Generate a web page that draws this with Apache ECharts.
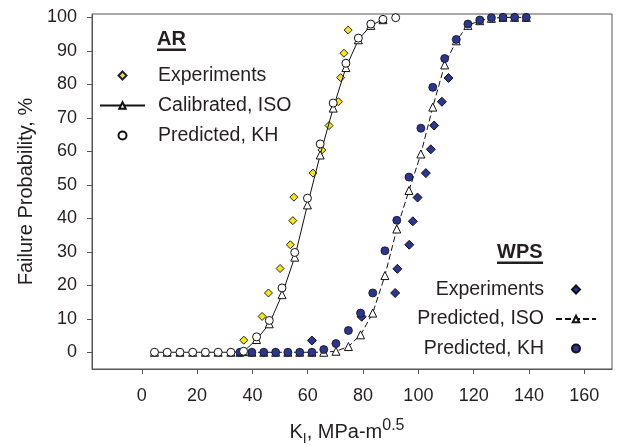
<!DOCTYPE html>
<html>
<head>
<meta charset="utf-8">
<script src="https://cdn.jsdelivr.net/npm/echarts@6/dist/echarts.min.js"></script>
<style>
  html, body { margin: 0; padding: 0; background: #fff; }
  #chart { width: 617px; height: 446px; }
</style>
</head>
<body>
<div id="chart"></div>
<script>
// AR data
const arX = [4.6, 9.2, 13.8, 18.4, 23.0, 27.6, 32.2, 36.8, 41.5, 46.1, 50.7, 55.3, 59.9, 64.5, 69.2, 73.8, 78.3, 82.8, 87.2, 91.8];
const arKH = [0, 0, 0, 0, 0, 0, 0, 0.3, 4.6, 9.5, 19.2, 29.8, 46.0, 62.2, 74.4, 86.3, 93.8, 98.0, 99.4, 99.9];
const arISO = [0, 0, 0, 0, 0, 0, 0, 0.2, 3.8, 8.5, 17.2, 28.4, 44.0, 58.9, 72.9, 85.0, 93.3, 97.6, 99.3];
const arExpX = [36.9, 43.5, 45.8, 50.0, 53.7, 54.6, 55.0, 61.9, 65.1, 67.7, 71.1, 71.9, 73.1, 74.6];
const arExpY = [3.6, 10.7, 17.7, 25.0, 32.1, 39.3, 46.3, 53.5, 60.4, 67.7, 74.8, 82.0, 89.3, 96.2];

// WPS data
const wpsX = [35.5, 39.8, 44.1, 48.4, 52.8, 57.1, 61.5, 65.8, 70.2, 74.7, 79.1, 83.5, 87.9, 92.2, 96.6, 100.9, 105.2, 109.5, 113.7, 117.9, 122.2, 126.4, 130.6, 134.8, 139.0];
const wpsKH = [0, 0, 0, 0, 0, 0, 0, 0.8, 2.6, 6.5, 11.7, 17.7, 30.3, 39.4, 52.3, 66.9, 79.1, 87.7, 93.4, 98.0, 99.2, 99.9, 100, 100, 100];
const wpsISO = [0, 0, 0, 0, 0, 0, 0, 0, 0.3, 1.7, 5.2, 11.7, 22.9, 36.8, 48.3, 59.2, 73.2, 85.8, 93.0, 97.6, 99.0, 99.7, 100, 100, 100];
const wpsExpX = [61.5, 79.5, 91.6, 92.4, 96.7, 98.0, 99.7, 102.7, 104.5, 105.7, 108.5, 110.9];
const wpsExpY = [3.5, 10.6, 17.7, 24.9, 32.1, 39.1, 46.2, 53.5, 60.6, 67.7, 74.8, 81.9];

const xTicks = [0, 20, 40, 60, 80, 100, 120, 140, 160];
const yTicks = [0, 10, 20, 30, 40, 50, 60, 70, 80, 90, 100];

const FONT = "'Liberation Sans', Arial, sans-serif";
const TXT = '#231f20';
const YELLOW = '#f5e616';
const NAVY = '#2d368f';

// legend diamond icons: the empty moves stretch the box to itemWidth x itemHeight
const AR_DIAMOND = 'path://M0,0M45,8M22.5,0L26.5,4L22.5,8L18.5,4Z';
const WPS_DIAMOND = 'path://M0,0M40,8M20,0L24,4L20,8L16,4Z';

function pairs(xs, ys) {
  return ys.map(function (y, i) { return [xs[i], y]; });
}

const chart = echarts.init(document.getElementById('chart'), null, { renderer: 'canvas' });

const option = {
  animation: false,
  textStyle: { fontFamily: FONT, color: TXT },
  grid: {
    left: 92, right: 5, top: 14, bottom: 77,
    outerBoundsMode: 'none',
    show: true, borderColor: '#555', borderWidth: 1
  },
  xAxis: {
    type: 'value', min: -18, max: 170,
    axisLine: { show: true, onZero: false, lineStyle: { color: '#555' } },
    axisTick: { show: true, customValues: xTicks, length: 5, lineStyle: { color: '#555' } },
    axisLabel: { customValues: xTicks, fontSize: 18, color: TXT, margin: 18, fontFamily: FONT },
    splitLine: { show: false },
    name: '{k|K}{sub|I}{k|, MPa-m}{sup|0.5}',
    nameLocation: 'middle',
    nameGap: 49,
    nameTextStyle: {
      padding: [0, 10, 0, 0],
      rich: {
        k: { fontSize: 20, fontFamily: FONT, color: TXT, lineHeight: 28, verticalAlign: 'middle' },
        sub: { fontSize: 14, fontFamily: FONT, color: TXT, lineHeight: 28, verticalAlign: 'bottom' },
        sup: { fontSize: 16, fontFamily: FONT, color: TXT, lineHeight: 28, verticalAlign: 'top' }
      }
    }
  },
  yAxis: {
    type: 'value', min: -5, max: 101,
    axisLine: { show: true, onZero: false, lineStyle: { color: '#555' } },
    axisTick: { show: true, customValues: yTicks, length: 5, lineStyle: { color: '#555' } },
    axisLabel: { customValues: yTicks, fontSize: 18, color: TXT, margin: 15, fontFamily: FONT },
    splitLine: { show: false },
    name: 'Failure Probability, %',
    nameLocation: 'middle',
    nameGap: 52,
    nameRotate: 90,
    nameTextStyle: { fontSize: 20, fontFamily: FONT, color: TXT }
  },
  legend: [
    {
      data: [
        { name: 'AR Experiments', icon: AR_DIAMOND },
        'AR Calibrated, ISO',
        { name: 'AR Predicted, KH', icon: 'circle' }
      ],
      orient: 'vertical', left: 99, top: 65, padding: 0,
      itemWidth: 45, itemHeight: 8, itemGap: 9,
      selectedMode: false,
      formatter: function (n) { return n.replace('AR ', ''); },
      textStyle: { fontSize: 19.5, lineHeight: 21, fontFamily: FONT, color: TXT, padding: [0, 0, 0, 8] }
    },
    {
      data: [
        { name: 'WPS Experiments', icon: WPS_DIAMOND },
        'WPS Predicted, ISO',
        { name: 'WPS Predicted, KH', icon: 'circle' }
      ],
      orient: 'vertical', right: 20, top: 279, padding: 0, align: 'right',
      itemWidth: 40, itemHeight: 8, itemGap: 8.5,
      selectedMode: false,
      formatter: function (n) { return n.replace('WPS ', ''); },
      textStyle: { fontSize: 19.5, lineHeight: 21, fontFamily: FONT, color: TXT, padding: [0, 7, 0, 0] }
    }
  ],
  graphic: [
    { type: 'text', x: 157, y: 29, style: { text: 'AR', font: 'bold 20px ' + FONT, fill: TXT } },
    { type: 'rect', shape: { x: 157, y: 48.5, width: 29, height: 2.5 }, style: { fill: TXT } },
    { type: 'text', x: 497, y: 242, style: { text: 'WPS', font: 'bold 20px ' + FONT, fill: TXT } },
    { type: 'rect', shape: { x: 497, y: 261.5, width: 46, height: 2.5 }, style: { fill: TXT } }
  ],
  series: [
    {
      name: 'WPS Predicted, ISO', type: 'line', z: 2,
      data: pairs(wpsX, wpsISO),
      symbol: 'triangle', symbolSize: 8, showAllSymbol: true,
      lineStyle: { color: '#111', width: 1, type: [6, 3] },
      itemStyle: { color: '#fff', borderColor: '#111', borderWidth: 1 }
    },
    {
      name: 'WPS Experiments', type: 'scatter', z: 3,
      data: pairs(wpsExpX, wpsExpY),
      symbol: 'diamond', symbolSize: 9,
      itemStyle: { color: NAVY, borderColor: '#111', borderWidth: 1, opacity: 1 }
    },
    {
      name: 'WPS Predicted, KH', type: 'scatter', z: 4,
      data: pairs(wpsX, wpsKH),
      symbol: 'circle', symbolSize: 8,
      itemStyle: { color: NAVY, borderColor: '#111', borderWidth: 0.8, opacity: 1 }
    },
    {
      name: 'AR Experiments', type: 'scatter', z: 3,
      data: pairs(arExpX, arExpY),
      symbol: 'diamond', symbolSize: 8,
      itemStyle: { color: YELLOW, borderColor: '#222', borderWidth: 1, opacity: 1 }
    },
    {
      name: 'AR Calibrated, ISO', type: 'line', z: 4,
      data: pairs(arX, arISO),
      symbol: 'triangle', symbolSize: 8, showAllSymbol: true,
      lineStyle: { color: '#111', width: 1 },
      itemStyle: { color: '#fff', borderColor: '#111', borderWidth: 1 }
    },
    {
      name: 'AR Predicted, KH', type: 'scatter', z: 5,
      data: pairs(arX, arKH),
      symbol: 'circle', symbolSize: 8,
      itemStyle: { color: '#fff', borderColor: '#111', borderWidth: 1, opacity: 1 }
    }
  ]
};

chart.setOption(option);
</script>
</body>
</html>
